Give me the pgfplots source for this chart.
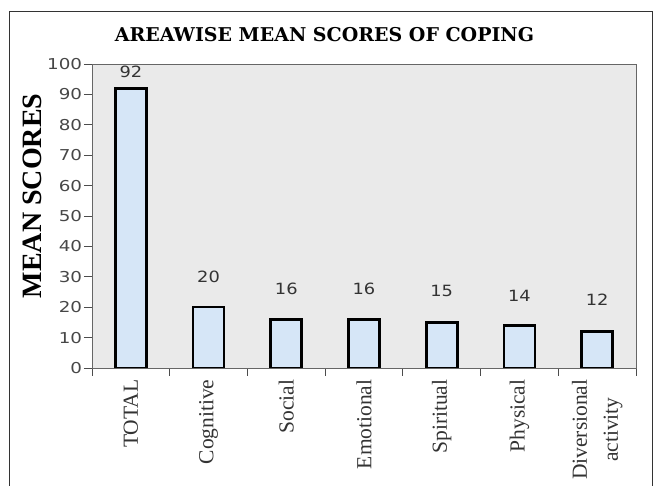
\documentclass[border=0pt]{standalone}
\usepackage{pgfplots}
\pgfplotsset{compat=1.18}
\usepackage{fontspec}
\setmainfont{Liberation Serif}
\newfontfamily\dejavu{DejaVu Sans}
\newfontfamily\titlefont{DejaVu Serif}
\definecolor{barfill}{RGB}{214,230,247}
\definecolor{bg}{RGB}{234,234,234}
\begin{document}
\begin{tikzpicture}
\useasboundingbox (-92pt,-118pt) rectangle (562pt,368pt);
\draw[line width=1pt, black!80] (-82pt,-130pt) -- (-82pt,356pt) -- (560pt,356pt) -- (560pt,-130pt);
\begin{axis}[
  at={(0,0)}, anchor=south west,
  scale only axis, width=544pt, height=304pt,
  xmin=-0.5, xmax=6.5, ymin=0, ymax=100,
  axis background/.style={fill=bg},
  axis line style={black!60, line width=0.8pt},
  xtick={0,1,2,3,4,5,6},
  xticklabels={TOTAL,Cognitive,Social,Emotional,Spiritual,Physical,{Diversional\\activity}},
  major x tick style={draw=none},
  minor xtick={-0.5,0.5,1.5,2.5,3.5,4.5,5.5,6.5},
  minor x tick style={black!70, line width=0.8pt},
  minor tick length=8pt,
  ytick={0,10,...,100},
  y tick style={black!70, line width=0.8pt},
  major tick length=8pt,
  tick align=outside,
  tick pos=left,
  /pgf/number format/assume math mode=true,
  yticklabel style={font=\dejavu\fontsize{15}{15}\selectfont, xscale=1.22, text=black!72, xshift=2pt},
  xticklabel style={rotate=90, anchor=east, align=center, font=\fontsize{21.5}{31}\selectfont, text=black!80, xshift=0pt},
]
\addplot[ybar, bar width=31pt, fill=barfill, draw=black, line width=2.6pt] coordinates {
  (0,92) (1,20) (2,16) (3,16) (4,15) (5,14) (6,12)
};
\addplot[draw=none, mark=none, nodes near coords, point meta=explicit symbolic,
  every node near coord/.style={anchor=center, xscale=1.15, font=\dejavu\fontsize{15.5}{15.5}\selectfont, text=black!80}] coordinates {
  (0,97.4)[92] (1,29.9)[20] (2,26)[16] (3,26)[16] (4,25.3)[15] (5,23.7)[14] (6,22.4)[12]
};
\end{axis}
\node[font=\titlefont\bfseries\fontsize{19}{19}\selectfont] at (232.5pt,333pt) {AREAWISE MEAN SCORES OF COPING};
\node[font=\bfseries\fontsize{28}{28}\selectfont, rotate=90] at (-60pt,172pt) {MEAN SCORES};
\end{tikzpicture}
\end{document}
